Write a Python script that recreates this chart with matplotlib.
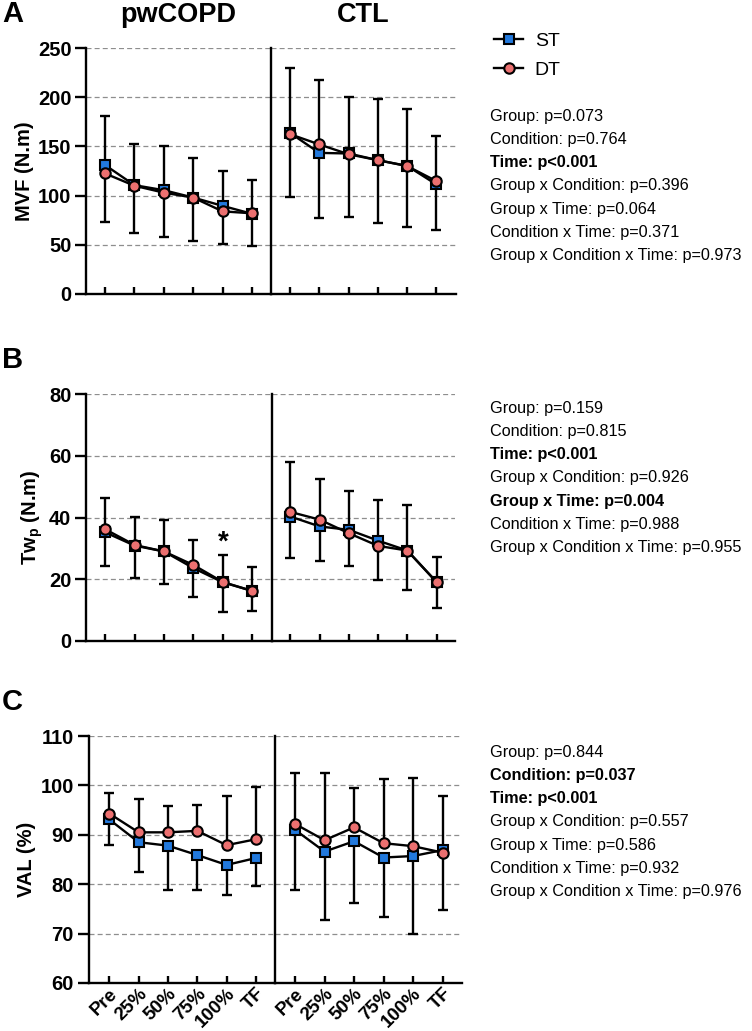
# -*- coding: utf-8 -*-
"""MVF, Twp and VAL over the fatigue protocol, ST vs DT, pwCOPD vs CTL."""

import numpy as np
import matplotlib
matplotlib.use('Agg')
import matplotlib.pyplot as plt

plt.rcParams['font.family'] = ['Liberation Sans', 'DejaVu Sans']
plt.rcParams['mathtext.fontset'] = 'custom'
plt.rcParams['mathtext.rm'] = 'Liberation Sans'
plt.rcParams['mathtext.bf'] = 'Liberation Sans:bold'

W, H, DPI = 752, 1031, 100

time_labels = ['Pre', '25%', '50%', '75%', '100%', 'TF']
group_titles = ['pwCOPD', 'CTL']
panel_letters = ['A', 'B', 'C']
y_labels = ['MVF (N.m)', r'Tw$_\mathbf{p}$ (N.m)', 'VAL (%)']
y_ranges = [(0, 250, 50), (0, 80, 20), (60, 110, 10)]

# MVF (N.m) - means, DT upper SD, ST lower SD
mvf_copd_st = [131.0, 110.6, 105.5, 98.0, 89.6, 81.5]
mvf_copd_dt = [122.5, 110.0, 103.0, 98.0, 84.0, 82.0]
mvf_copd_st_sd = [57.6, 48.4, 47.3, 44.0, 39.2, 32.8]
mvf_copd_dt_sd = [58.1, 42.2, 47.5, 40.0, 41.5, 33.7]
mvf_ctl_st = [163.7, 143.4, 142.8, 136.0, 130.2, 111.3]
mvf_ctl_dt = [162.4, 152.0, 142.0, 136.0, 130.0, 114.7]
mvf_ctl_st_sd = [65.3, 65.9, 64.3, 64.3, 61.9, 46.3]
mvf_ctl_dt_sd = [67.6, 65.9, 58.3, 62.6, 58.4, 45.7]

# Twp (N.m)
twp_copd_st = [35.2, 30.9, 29.0, 23.6, 19.0, 16.2]
twp_copd_dt = [36.2, 31.1, 29.0, 24.6, 19.1, 16.2]
twp_copd_st_sd = [10.8, 10.4, 10.5, 9.5, 9.7, 6.5]
twp_copd_dt_sd = [10.0, 9.2, 10.1, 8.1, 8.6, 7.8]
twp_ctl_st = [40.3, 37.1, 36.0, 32.5, 29.3, 19.1]
twp_ctl_dt = [41.8, 39.3, 34.9, 30.8, 29.3, 19.1]
twp_ctl_st_sd = [13.5, 11.2, 11.6, 12.7, 12.8, 8.3]
twp_ctl_dt_sd = [16.3, 13.1, 13.8, 14.8, 14.7, 8.2]

# VAL (%)
val_copd_st = [93.1, 88.5, 87.8, 85.9, 83.9, 85.3]
val_copd_dt = [94.3, 90.5, 90.5, 90.8, 87.9, 89.1]
val_copd_st_sd = [5.2, 6.1, 9.0, 7.0, 6.1, 5.7]
val_copd_dt_sd = [4.1, 6.7, 5.4, 5.2, 9.9, 10.5]
val_ctl_st = [91.0, 86.6, 88.7, 85.4, 85.7, 86.9]
val_ctl_dt = [92.2, 88.9, 91.5, 88.3, 87.7, 86.4]
val_ctl_st_sd = [12.2, 13.8, 12.6, 12.0, 15.7, 12.2]
val_ctl_dt_sd = [10.3, 13.6, 7.9, 13.0, 13.7, 11.5]

# ANOVA results, bold = significant
stats_a = [('Group: p=0.073', False), ('Condition: p=0.764', False),
           ('Time: p<0.001', True), ('Group x Condition: p=0.396', False),
           ('Group x Time: p=0.064', False), ('Condition x Time: p=0.371', False),
           ('Group x Condition x Time: p=0.973', False)]
stats_b = [('Group: p=0.159', False), ('Condition: p=0.815', False),
           ('Time: p<0.001', True), ('Group x Condition: p=0.926', False),
           ('Group x Time: p=0.004', True), ('Condition x Time: p=0.988', False),
           ('Group x Condition x Time: p=0.955', False)]
stats_c = [('Group: p=0.844', False), ('Condition: p=0.037', True),
           ('Time: p<0.001', True), ('Group x Condition: p=0.557', False),
           ('Group x Time: p=0.586', False), ('Condition x Time: p=0.932', False),
           ('Group x Condition x Time: p=0.976', False)]

ST_COLOR = '#2279dd'
DT_COLOR = '#ec7070'
SPINE_W = 1.7
LABEL_FS = 14.5


def px_rect(x0, x1, y0, y1):
    """pixel box (top-left origin) -> figure rect"""
    return [x0 / W, 1 - y1 / H, (x1 - x0) / W, (y1 - y0) / H]


def draw_group(ax, st, st_sd, dt, dt_sd):
    x = np.arange(len(time_labels))
    zeros = np.zeros(len(x))
    ax.errorbar(x, st, yerr=[st_sd, zeros], fmt='none', ecolor='black',
                elinewidth=1.7, capsize=3.8, capthick=1.7, zorder=2)
    ax.errorbar(x, dt, yerr=[zeros, dt_sd], fmt='none', ecolor='black',
                elinewidth=1.7, capsize=3.8, capthick=1.7, zorder=2)
    l_st, = ax.plot(x, st, '-s', color='black', mfc=ST_COLOR, mec='black',
                    ms=7.5, mew=1.5, lw=1.7, zorder=3, label='ST')
    l_dt, = ax.plot(x, dt, '-o', color='black', mfc=DT_COLOR, mec='black',
                    ms=7.5, mew=1.5, lw=1.7, zorder=4, label='DT')
    return l_st, l_dt


def style_axes(ax, yr, xlim, first, show_xlabels):
    lo, hi, step = yr
    ax.set_ylim(lo, hi)
    ax.set_yticks(np.arange(lo, hi + step / 2, step))
    ax.set_xlim(*xlim)
    ax.set_xticks(np.arange(len(time_labels)))
    ax.set_axisbelow(True)
    ax.yaxis.grid(True, linestyle=(0, (4, 2.5)), color='#8e8e8e', lw=0.9)
    for s in ['top', 'right']:
        ax.spines[s].set_visible(False)
    for s in ['left', 'bottom']:
        ax.spines[s].set_linewidth(SPINE_W)
    ax.tick_params(axis='x', direction='in', length=5, width=SPINE_W)
    if first:
        ax.tick_params(axis='y', direction='out', length=8, width=SPINE_W,
                       labelsize=LABEL_FS, pad=2.5)
        for t in ax.get_yticklabels():
            t.set_fontweight('bold')
    else:
        ax.tick_params(axis='y', left=False, labelleft=False)
    if show_xlabels:
        ax.set_xticklabels(time_labels, rotation=45, ha='right', va='top',
                           rotation_mode='anchor', fontsize=13.5,
                           fontweight='bold')
        ax.tick_params(axis='x', pad=1.5)
    else:
        ax.tick_params(axis='x', labelbottom=False)


fig = plt.figure(figsize=(W / DPI, H / DPI), dpi=DPI)

# axes boxes in pixels: (left, split, right end, top, bottom, xlims)
layout = [
    (86, 271, 455.5, 48, 294, (-0.65, 5.65), (-0.65, 5.65)),
    (86, 271.5, 455.5, 394, 641, (-0.65, 5.65), (-0.65, 5.65)),
    (88.5, 275, 461.7, 736, 983, (-0.71, 5.65), (-0.68, 5.65)),
]
panel_data = [
    [(mvf_copd_st, mvf_copd_st_sd, mvf_copd_dt, mvf_copd_dt_sd),
     (mvf_ctl_st, mvf_ctl_st_sd, mvf_ctl_dt, mvf_ctl_dt_sd)],
    [(twp_copd_st, twp_copd_st_sd, twp_copd_dt, twp_copd_dt_sd),
     (twp_ctl_st, twp_ctl_st_sd, twp_ctl_dt, twp_ctl_dt_sd)],
    [(val_copd_st, val_copd_st_sd, val_copd_dt, val_copd_dt_sd),
     (val_ctl_st, val_ctl_st_sd, val_ctl_dt, val_ctl_dt_sd)],
]
letter_y = [14, 360, 702]

handles = None
panel_axes = []
for p in range(3):
    x0, xm, x1, y0, y1, xl_left, xl_right = layout[p]
    ax_l = fig.add_axes(px_rect(x0, xm, y0, y1))
    ax_r = fig.add_axes(px_rect(xm, x1, y0, y1))
    h = draw_group(ax_l, *panel_data[p][0])
    draw_group(ax_r, *panel_data[p][1])
    if handles is None:
        handles = h
    style_axes(ax_l, y_ranges[p], xl_left, True, p == 2)
    style_axes(ax_r, y_ranges[p], xl_right, False, p == 2)
    ax_l.set_ylabel(y_labels[p], fontsize=LABEL_FS, fontweight='bold', labelpad=3)
    fig.text(2 / W, 1 - letter_y[p] / H, panel_letters[p], fontsize=21,
             fontweight='bold', ha='left', va='center')
    panel_axes.append((ax_l, ax_r))

# group titles above panel A
for ax, title in zip(panel_axes[0], group_titles):
    pos = ax.get_position()
    fig.text(pos.x0 + pos.width / 2, 1 - 15 / H, title, fontsize=19.5,
             fontweight='bold', ha='center', va='center')

# significance mark, pwCOPD Twp at 100%
panel_axes[1][0].text(4, 31.8, '*', ha='center', va='center', fontsize=20,
                      fontweight='bold')

# legend
fig.legend(handles, ['ST', 'DT'], loc='upper left',
           bbox_to_anchor=(494 / W, 1 - 32 / H), frameon=False, fontsize=14,
           handlelength=1.5, handletextpad=0.6, labelspacing=0.62,
           borderpad=0, borderaxespad=0)

# stats text blocks
for stats, y_first in [(stats_a, 116), (stats_b, 408), (stats_c, 752)]:
    for i, (txt, bold) in enumerate(stats):
        fig.text(490 / W, 1 - (y_first + i * 23.3) / H, txt, fontsize=11.7,
                 fontweight='bold' if bold else 'normal', ha='left', va='center')

fig.savefig('out.png', dpi=DPI)
